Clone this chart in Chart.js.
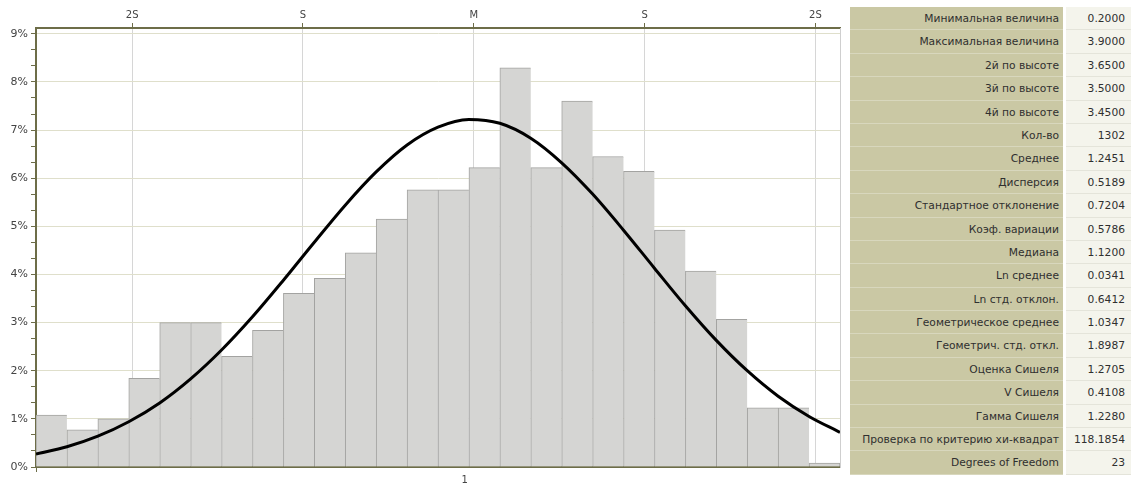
<!DOCTYPE html>
<html>
<head>
<meta charset="utf-8">
<script src="https://cdn.jsdelivr.net/npm/chart.js@4.4.1/dist/chart.umd.min.js"></script>
<style>
  html, body { margin: 0; padding: 0; background: #ffffff; width: 1131px; height: 485px; overflow: hidden; }
  #wrap { position: absolute; left: 0; top: 0; width: 845px; height: 485px; }
  #stats { position: absolute; left: 850px; top: 7px; width: 281px; font-family: "DejaVu Sans", sans-serif; font-size: 10.7px; color: #2f2f2f; }
  .row { display: flex; height: 23.4px; }
  .lab { width: 213px; box-sizing: border-box; background: #cac8a4; text-align: right; padding-right: 4px; line-height: 23.4px; border-bottom: 1px solid rgba(255,255,255,0.28); white-space: nowrap; }
  .gap { width: 3px; background: #ffffff; }
  .val { width: 65px; box-sizing: border-box; background: #f4f4ec; text-align: right; padding-right: 6px; line-height: 23.4px; border-bottom: 1px solid #e4e4da; white-space: nowrap; }
</style>
</head>
<body>
<div id="wrap"><canvas id="c" width="845" height="485"></canvas></div>
<div id="stats"></div>
<script>
// ---- data ----
// histogram bin edges (x values, log-scaled axis)
const binEdges = [0.2000, 0.2246, 0.2523, 0.2833, 0.3182, 0.3574, 0.4014, 0.4508, 0.5063, 0.5686,
                  0.6386, 0.7172, 0.8055, 0.9046, 1.0160, 1.1411, 1.2815, 1.4393, 1.6165, 1.8154,
                  2.0389, 2.2899, 2.5718, 2.8884, 3.2439, 3.6432, 4.0918];
// share of observations per bin, %
const binPercent = [1.08, 0.77, 1.00, 1.84, 3.00, 3.00, 2.30, 2.84, 3.61, 3.92,
                    4.45, 5.15, 5.76, 5.76, 6.22, 8.29, 6.22, 7.60, 6.45, 6.14,
                    4.92, 4.07, 3.07, 1.23, 1.23, 0.08];
// fitted curve, % (read at the bin edges)
const curvePercent = [0.27, 0.42, 0.64, 0.94, 1.33, 1.83, 2.43, 3.12, 3.88, 4.67,
                      5.44, 6.13, 6.69, 7.06, 7.22, 7.14, 6.83, 6.32, 5.67, 4.92,
                      4.13, 3.35, 2.63, 2.00, 1.47, 1.05, 0.72];
// top axis marks (M, ±S, ±2S)
const topTickValues = [0.2870, 0.5449, 1.0347, 1.9646, 3.7304];
const topTickLabels = ['2S', 'S', 'M', 'S', '2S'];
// bottom axis marks
const bottomTickValues = [1];
const bottomTickLabels = ['1'];
// y axis
const yMajorTicks = [0, 1, 2, 3, 4, 5, 6, 7, 8, 9];
const yMinorPerMajor = 3;
const yMax = 9.12;

// statistics table
const statLabels = ['Минимальная величина', 'Максимальная величина', '2й по высоте', '3й по высоте', '4й по высоте',
  'Кол-во', 'Среднее', 'Дисперсия', 'Стандартное отклонение', 'Коэф. вариации', 'Медиана', 'Ln среднее',
  'Ln стд. отклон.', 'Геометрическое среднее', 'Геометрич. стд. откл.', 'Оценка Сишеля', 'V Сишеля',
  'Гамма Сишеля', 'Проверка по критерию хи-квадрат', 'Degrees of Freedom'];
const statValues = ['0.2000', '3.9000', '3.6500', '3.5000', '3.4500', '1302', '1.2451', '0.5189', '0.7204',
  '0.5786', '1.1200', '0.0341', '0.6412', '1.0347', '1.8987', '1.2705', '0.4108', '1.2280', '118.1854', '23'];

// ---- table ----
const stats = document.getElementById('stats');
statLabels.forEach((l, i) => {
  const r = document.createElement('div'); r.className = 'row';
  const a = document.createElement('div'); a.className = 'lab'; a.textContent = l;
  const g = document.createElement('div'); g.className = 'gap';
  const b = document.createElement('div'); b.className = 'val'; b.textContent = statValues[i];
  r.appendChild(a); r.appendChild(g); r.appendChild(b); stats.appendChild(r);
});

// ---- chart ----
const olive = '#6d6d48';
const tickFont = { family: 'DejaVu Sans', size: 10 };
const yFont = { family: 'DejaVu Sans', size: 11 };
const isMajor = v => Math.abs(v - Math.round(v)) < 1e-6;

const barData = binPercent.map((y, i) => ({ x: Math.sqrt(binEdges[i] * binEdges[i + 1]), y }));
const curveData = binEdges.map((x, i) => ({ x, y: curvePercent[i] }));

new Chart(document.getElementById('c'), {
  data: {
    datasets: [
      {
        type: 'line', data: curveData, xAxisID: 'x', yAxisID: 'y',
        borderColor: '#000000', borderWidth: 3, pointRadius: 0, tension: 0.4,
        cubicInterpolationMode: 'monotone', order: 0
      },
      {
        type: 'bar', data: barData, xAxisID: 'x', yAxisID: 'y',
        backgroundColor: '#d5d5d3', borderColor: '#a3a3a1',
        borderWidth: ctx => ({ top: 1, left: 1, bottom: 0, right: ctx.dataIndex === binPercent.length - 1 ? 1 : 0 }),
        borderSkipped: false,
        barPercentage: 1, categoryPercentage: 1, grouped: false, order: 1
      }
    ]
  },
  options: {
    responsive: false, animation: false, maintainAspectRatio: false,
    layout: { padding: 0 },
    plugins: { legend: { display: false }, tooltip: { enabled: false } },
    scales: {
      x: {
        type: 'logarithmic', position: 'bottom', min: binEdges[0], max: binEdges[binEdges.length - 1], bounds: 'data',
        afterBuildTicks: s => { s.ticks = bottomTickValues.map(v => ({ value: v })); },
        afterFit: s => { s.height = 18; },
        ticks: { autoSkip: false, maxRotation: 0, padding: 2, color: '#444444', font: tickFont,
                 callback: (v, i) => bottomTickLabels[i] },
        grid: { drawOnChartArea: false, tickLength: 5, tickColor: olive, tickWidth: 1 },
        border: { color: olive, width: 2 }
      },
      xTop: {
        type: 'logarithmic', position: 'top', min: binEdges[0], max: binEdges[binEdges.length - 1], bounds: 'data',
        afterBuildTicks: s => { s.ticks = topTickValues.map(v => ({ value: v })); },
        afterFit: s => { s.height = 28; },
        ticks: { autoSkip: false, maxRotation: 0, padding: 2, color: '#444444', font: tickFont,
                 callback: (v, i) => topTickLabels[i] },
        grid: { color: '#d6d6d6', lineWidth: 1, tickLength: 5, tickColor: olive, tickWidth: 1 },
        border: { color: olive, width: 2 }
      },
      y: {
        type: 'linear', position: 'left', min: 0, max: yMax,
        afterBuildTicks: s => {
          const t = [];
          const last = yMajorTicks[yMajorTicks.length - 1];
          for (let i = 0; i <= last * yMinorPerMajor; i++) t.push({ value: i / yMinorPerMajor });
          s.ticks = t;
        },
        afterFit: s => { s.width = 36; },
        ticks: { autoSkip: false, padding: 3, color: '#444444', font: yFont,
                 callback: v => (isMajor(v) ? Math.round(v) + '%' : '') },
        grid: {
          color: c => (c.tick && isMajor(c.tick.value) && c.tick.value > 0 ? '#dfdfcb' : 'rgba(0,0,0,0)'),
          lineWidth: 1, tickLength: 5, tickColor: olive, tickWidth: 1
        },
        border: { color: olive, width: 2 }
      },
      yR: {
        type: 'linear', position: 'right', display: true,
        afterFit: s => { s.width = 5; },
        ticks: { display: false },
        grid: { drawOnChartArea: false, drawTicks: false },
        border: { color: '#cfcfcf', width: 1 }
      }
    }
  }
});
</script>
</body>
</html>
